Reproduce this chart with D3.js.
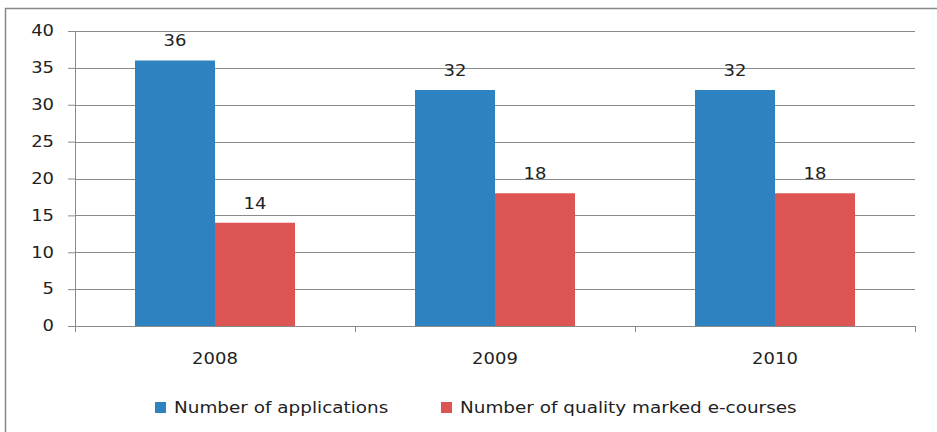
<!DOCTYPE html>
<html>
<head>
<meta charset="utf-8">
<script src="https://cdn.jsdelivr.net/npm/d3@7"></script>
<style>
body{margin:0;background:#fff;}
svg text{font-family:"DejaVu Sans",sans-serif;fill:#222;}
</style>
</head>
<body>
<svg id="chart" width="937" height="432"></svg>
<script>
var years = ["2008", "2009", "2010"];
var applications = [36, 32, 32];
var qualityMarked = [14, 18, 18];
var seriesNames = ["Number of applications", "Number of quality marked e-courses"];
var seriesColors = ["#2e82c0", "#dc5552"];
var yTicks = [0, 5, 10, 15, 20, 25, 30, 35, 40];

var svg = d3.select("#chart");
var margin = {left: 75, right: 22, top: 31, bottom: 106};
var width = 937 - margin.left - margin.right,
	height = 432 - margin.top - margin.bottom;

// the original picture is stretched sideways, so widen the glyphs a bit
function stretch(sel, k) {
	sel.attr("transform", function() {
		var x0 = +this.getAttribute("x") || 0;
		return "translate(" + x0 + ",0) scale(" + k + ",1) translate(" + (-x0) + ",0)";
	});
}

// outer frame, right and bottom are cut off in the original
svg.append("path")
	.attr("d", "M5.5,440V8.5H945")
	.attr("fill", "none")
	.attr("stroke", "#888")
	.attr("stroke-width", 1.5);

var g = svg.append("g").attr("transform", "translate(" + margin.left + "," + margin.top + ")");

var x = d3.scaleBand().domain(years).range([0, width]);
var xs = d3.scaleBand().domain([0, 1]).range([60, x.bandwidth() - 60]);
var y = d3.scaleLinear().domain([0, 40]).range([height, 0]);

// gridlines
g.append("g").selectAll("line")
	.data(yTicks.slice(1))
	.enter().append("line")
	.attr("x1", 0).attr("x2", width)
	.attr("y1", function(d) { return Math.round(y(d)) + 0.5; })
	.attr("y2", function(d) { return Math.round(y(d)) + 0.5; })
	.attr("stroke", "#8a8a8a");

var yAxis = g.append("g")
	.call(d3.axisLeft(y).tickValues(yTicks).tickSize(7).tickPadding(14));
yAxis.attr("font-family", null).attr("font-size", null);
yAxis.select(".domain").attr("stroke", "#8a8a8a");
yAxis.selectAll(".tick line").attr("stroke", "#8a8a8a");
yAxis.selectAll("text").style("font-size", "15px").call(stretch, 1.2);

var groups = g.selectAll("g.year")
	.data(years)
	.enter().append("g")
	.attr("class", "year")
	.attr("transform", function(d) { return "translate(" + x(d) + ",0)"; });

var rows = years.map(function(d, i) { return [applications[i], qualityMarked[i]]; });

groups.selectAll("rect")
	.data(function(d, i) { return rows[i]; })
	.enter().append("rect")
	.attr("x", function(d, j) { return xs(j); })
	.attr("width", xs.bandwidth())
	.attr("y", function(d) { return y(d); })
	.attr("height", function(d) { return height - y(d); })
	.attr("fill", function(d, j) { return seriesColors[j]; });

groups.selectAll("text.val")
	.data(function(d, i) { return rows[i]; })
	.enter().append("text")
	.attr("class", "val")
	.attr("x", function(d, j) { return xs(j) + xs.bandwidth() / 2; })
	.attr("y", function(d) { return y(d) - 14; })
	.attr("text-anchor", "middle")
	.style("font-size", "15px")
	.text(function(d) { return d; })
	.call(stretch, 1.2);

// x axis with ticks between categories
var xAxis = g.append("g").attr("transform", "translate(0," + height + ")");
xAxis.append("line")
	.attr("x1", 0).attr("x2", width)
	.attr("y1", 0.5).attr("y2", 0.5)
	.attr("stroke", "#8a8a8a");
xAxis.selectAll("line.tk")
	.data(years.concat(["end"]))
	.enter().append("line")
	.attr("class", "tk")
	.attr("x1", function(d, i) { return Math.round(i * x.step()) + 0.5; })
	.attr("x2", function(d, i) { return Math.round(i * x.step()) + 0.5; })
	.attr("y1", 0).attr("y2", 6)
	.attr("stroke", "#8a8a8a");
xAxis.selectAll("text")
	.data(years)
	.enter().append("text")
	.attr("x", function(d) { return x(d) + x.bandwidth() / 2; })
	.attr("y", 38)
	.attr("text-anchor", "middle")
	.style("font-size", "15px")
	.text(function(d) { return d; })
	.call(stretch, 1.2);

// legend
var legendX = [155, 441];
var legend = svg.append("g").selectAll("g")
	.data(seriesNames)
	.enter().append("g")
	.attr("transform", function(d, i) { return "translate(" + legendX[i] + ",402)"; });
legend.append("rect")
	.attr("width", 11).attr("height", 11)
	.attr("fill", function(d, i) { return seriesColors[i]; });
legend.append("text")
	.attr("x", 19).attr("y", 11)
	.style("font-size", "16px")
	.text(function(d) { return d; })
	.call(stretch, 1.15);
</script>
</body>
</html>
